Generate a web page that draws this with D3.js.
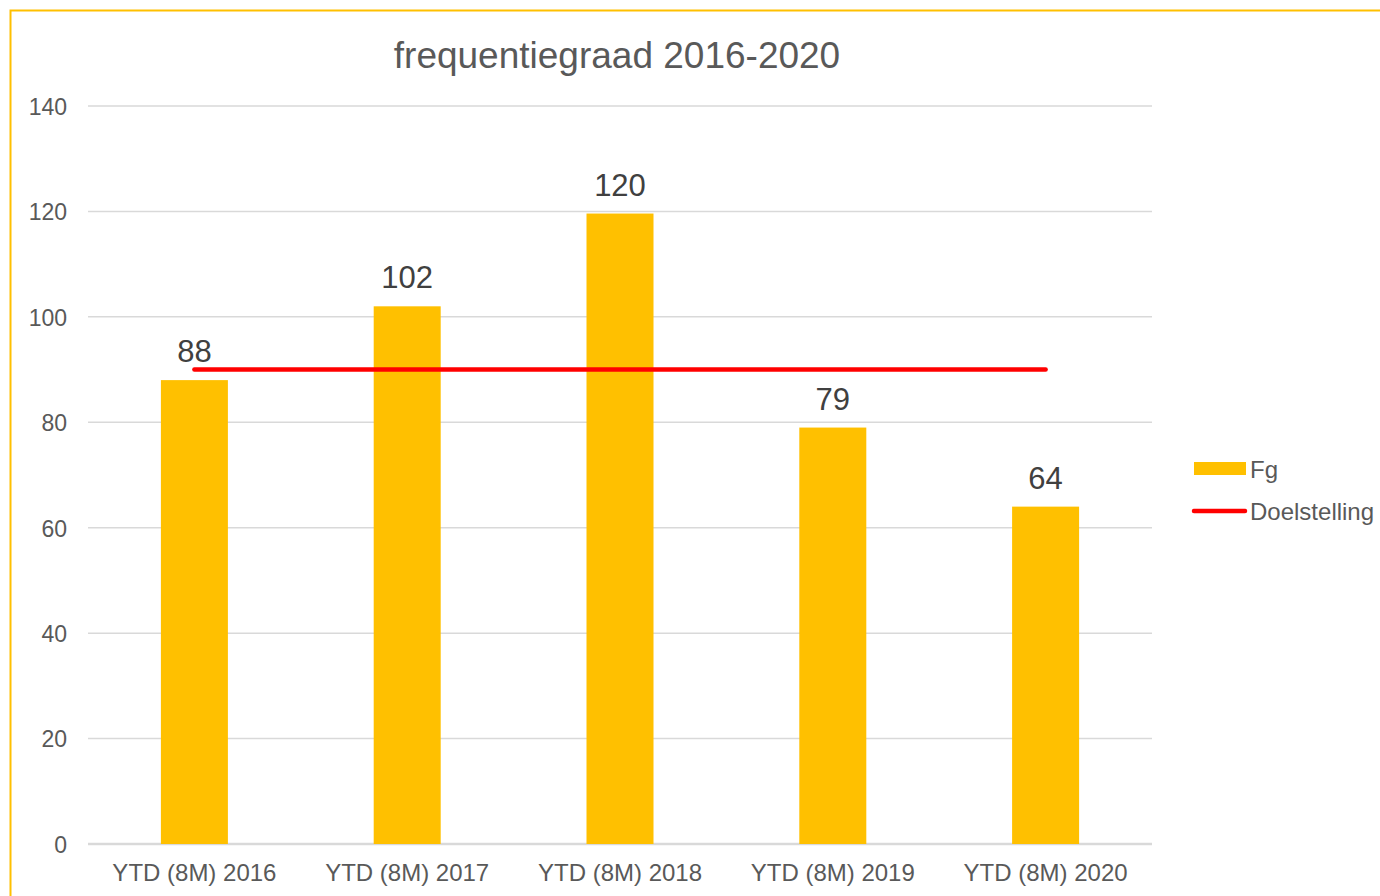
<!DOCTYPE html>
<html>
<head>
<meta charset="utf-8">
<script src="https://cdn.jsdelivr.net/npm/d3@7"></script>
<style>
  body { margin: 0; background: #fff; }
  svg { display: block; font-family: "Liberation Sans", Arial, sans-serif; }
</style>
</head>
<body>
<svg id="chart" width="1380" height="896"></svg>
<script>
// chart data
var categories = [ 'YTD (8M) 2016', 'YTD (8M) 2017', 'YTD (8M) 2018', 'YTD (8M) 2019', 'YTD (8M) 2020' ];
var fgValues = [ 88, 102, 119.6, 79, 64 ];
var targetValues = [ 90, 90, 90, 90, 90 ];
var yTicks = [ 0, 20, 40, 60, 80, 100, 120, 140 ];

var svg = d3.select( '#chart' ),
	plotLeft = 88,
	plotRight = 1152,
	plotTop = 106,
	plotBottom = 844;

// outer border, runs off the right and bottom edge
svg.append( 'rect' )
	.attr( 'x', 10.5 ).attr( 'y', 10.5 )
	.attr( 'width', 1400 ).attr( 'height', 900 )
	.attr( 'fill', 'none' )
	.attr( 'stroke', '#ffc000' )
	.attr( 'stroke-width', 2 );

var x = d3.scaleBand().domain( categories ).range( [ plotLeft, plotRight ] );
var y = d3.scaleLinear().domain( [ 0, 140 ] ).range( [ plotBottom, plotTop ] );
var fmt = d3.format( '.0f' );

// gridlines
svg.append( 'g' ).selectAll( 'line' )
	.data( yTicks )
	.enter().append( 'line' )
	.attr( 'x1', plotLeft ).attr( 'x2', plotRight )
	.attr( 'y1', function( _d ) { return y( _d ); } )
	.attr( 'y2', function( _d ) { return y( _d ); } )
	.attr( 'stroke', '#d9d9d9' )
	.attr( 'stroke-width', function( _d ) { return _d === 0 ? 2.5 : 1.5; } );

// y axis labels
var yAxis = d3.axisLeft( y ).tickValues( yTicks ).tickSize( 0 ).tickPadding( 21 );
var gy = svg.append( 'g' ).attr( 'transform', 'translate(' + plotLeft + ',1)' ).call( yAxis );
gy.select( '.domain' ).remove();
gy.selectAll( 'text' )
	.attr( 'font-size', 23 )
	.attr( 'font-family', '"Liberation Sans", Arial, sans-serif' )
	.attr( 'fill', '#595959' );

// x axis labels
var xAxis = d3.axisBottom( x ).tickSize( 0 ).tickPadding( 20 );
var gx = svg.append( 'g' ).attr( 'transform', 'translate(0,' + plotBottom + ')' ).call( xAxis );
gx.select( '.domain' ).remove();
gx.selectAll( 'text' )
	.attr( 'font-size', 24 )
	.attr( 'font-family', '"Liberation Sans", Arial, sans-serif' )
	.attr( 'fill', '#595959' );

// bars
var barW = 67;
svg.append( 'g' ).selectAll( 'rect' )
	.data( fgValues )
	.enter().append( 'rect' )
	.attr( 'x', function( _d, i ) { return x( categories[ i ] ) + x.bandwidth() / 2 - barW / 2; } )
	.attr( 'y', function( _d ) { return y( _d ); } )
	.attr( 'width', barW )
	.attr( 'height', function( _d ) { return y( 0 ) - y( _d ); } )
	.attr( 'fill', '#ffc000' );

// target line
var line = d3.line()
	.x( function( _d, i ) { return x( categories[ i ] ) + x.bandwidth() / 2; } )
	.y( function( _d ) { return y( _d ); } );
svg.append( 'path' )
	.datum( targetValues )
	.attr( 'd', line )
	.attr( 'fill', 'none' )
	.attr( 'stroke', '#ff0000' )
	.attr( 'stroke-width', 4.5 )
	.attr( 'stroke-linecap', 'round' );

// value labels
svg.append( 'g' ).selectAll( 'text' )
	.data( fgValues )
	.enter().append( 'text' )
	.attr( 'x', function( _d, i ) { return x( categories[ i ] ) + x.bandwidth() / 2; } )
	.attr( 'y', function( _d ) { return y( _d ) - 18; } )
	.attr( 'text-anchor', 'middle' )
	.attr( 'font-size', 31 )
	.attr( 'fill', '#404040' )
	.text( function( _d ) { return fmt( _d ); } );

// title
svg.append( 'text' )
	.attr( 'x', 617 ).attr( 'y', 68 )
	.attr( 'text-anchor', 'middle' )
	.attr( 'font-size', 37 )
	.attr( 'fill', '#595959' )
	.text( 'frequentiegraad 2016-2020' );

// legend
var lg = svg.append( 'g' );
lg.append( 'rect' )
	.attr( 'x', 1194 ).attr( 'y', 462 )
	.attr( 'width', 52 ).attr( 'height', 13 )
	.attr( 'fill', '#ffc000' );
lg.append( 'text' )
	.attr( 'x', 1250 ).attr( 'y', 478 )
	.attr( 'font-size', 24 ).attr( 'fill', '#595959' )
	.text( 'Fg' );
lg.append( 'line' )
	.attr( 'x1', 1194 ).attr( 'x2', 1245 )
	.attr( 'y1', 511 ).attr( 'y2', 511 )
	.attr( 'stroke', '#ff0000' )
	.attr( 'stroke-width', 4.5 )
	.attr( 'stroke-linecap', 'round' );
lg.append( 'text' )
	.attr( 'x', 1250 ).attr( 'y', 520 )
	.attr( 'font-size', 24 ).attr( 'fill', '#595959' )
	.text( 'Doelstelling' );
</script>
</body>
</html>
